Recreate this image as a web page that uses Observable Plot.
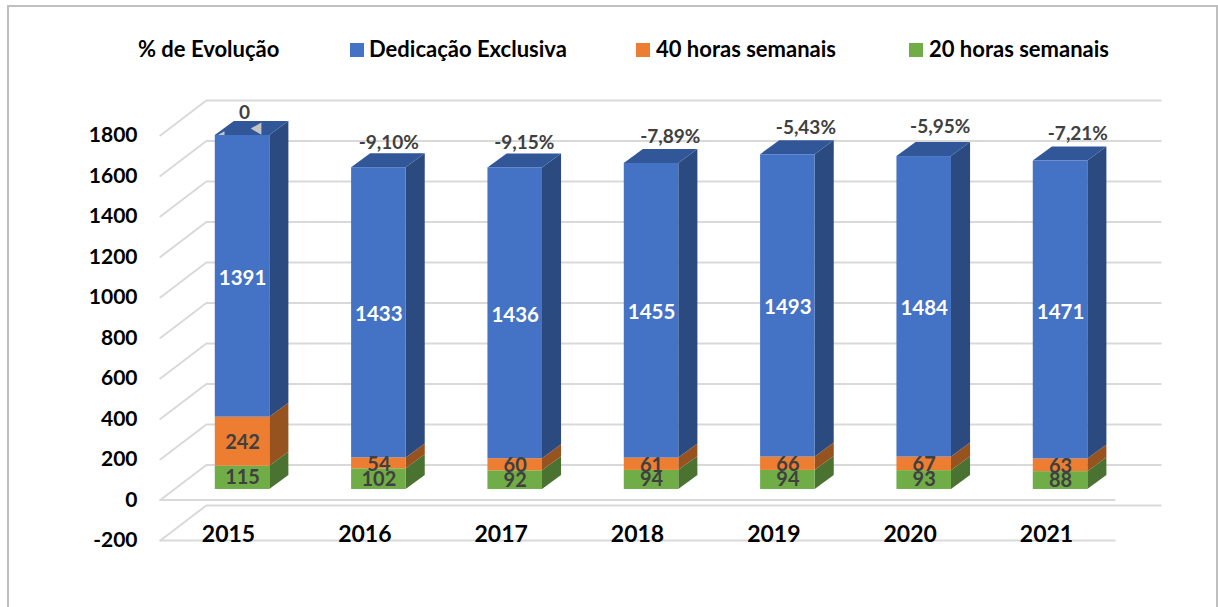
<!DOCTYPE html>
<html lang="pt">
<head>
<meta charset="utf-8">
<script src="https://cdn.jsdelivr.net/npm/d3@7"></script>
<script src="https://cdn.jsdelivr.net/npm/@observablehq/plot@0.6"></script>
<style>
html,body{margin:0;padding:0;background:#fff;overflow:hidden;width:1218px;height:607px}
#frame{position:absolute;left:7px;top:5px;width:1207px;height:700px;border:2px solid #BFBFBF;box-sizing:content-box}
#legend{position:absolute;left:0;top:0;width:1218px;height:90px;font:bold 22px Lato,sans-serif;color:#000}
#legend span{position:absolute;top:36px;line-height:26px;white-space:nowrap}
#legend i{position:absolute;top:43px;width:14px;height:14px}
#chart{position:absolute;left:0;top:90px}
#chart svg{display:block}
</style>
</head>
<body>
<div id="frame"></div>
<div id="legend"></div>
<div id="chart"></div>
<script>
const years = ["2015","2016","2017","2018","2019","2020","2021"];
const exclusiva = [1391,1433,1436,1455,1493,1484,1471];
const horas40 = [242,54,60,61,66,67,63];
const horas20 = [115,102,92,94,94,93,88];
const evolucao = ["0","-9,10%","-9,15%","-7,89%","-5,43%","-5,95%","-7,21%"];
const yTicks = [-200,0,200,400,600,800,1000,1200,1400,1600,1800];

const seriesDefs = [
  {name:"20 horas semanais", values:horas20, front:"#70AD47", side:"#4A7230", label:"#404040", size:20, dy:0},
  {name:"40 horas semanais", values:horas40, front:"#ED7D31", side:"#96531F", label:"#404040", size:20, dy:1},
  {name:"Dedicação Exclusiva", values:exclusiva, front:"#4472C4", side:"#2A4A80", top:"#325798", label:"#FFFFFF", size:20.5, dy:2}
];

// pseudo-3D projection constants, in scale units
const wallDx = 0.3375, wallDy = 173;    // depth of the chart floor
const barDx = 0.14, barDy = 69;         // depth of one bar
const barOffX = 0.103, barOffY = 52;    // bar front relative to the axis plane
const barW = 0.4;

// stacked segments
const segs = [];
years.forEach((year,i)=>{
  let base = 0;
  seriesDefs.forEach(s=>{
    segs.push({i,year,series:s.name,v0:base,v1:base+s.values[i],v:s.values[i]});
    base += s.values[i];
  });
});
const totals = years.map((_,i)=>horas20[i]+horas40[i]+exclusiva[i]);
const L = i=>i-barW/2+barOffX, R = i=>i+barW/2+barOffX;

const marks = [];

// gridlines: front-left edge, diagonal to the back wall, along the wall
const gridPts = yTicks.flatMap(t=>[
  {t,x:-0.5,y:t},{t,x:-0.5+wallDx,y:t+wallDy},{t,x:6.5+wallDx,y:t+wallDy}
]);
marks.push(Plot.line(gridPts,{x:"x",y:"y",z:"t",stroke:"#D9D9D9",strokeWidth:2,curve:"linear"}));
// floor front edges
const floorPts = [-200,0].flatMap(t=>[{t,x:-0.5,y:t},{t,x:6.5,y:t}]);
marks.push(Plot.line(floorPts,{x:"x",y:"y",z:"t",stroke:"#D9D9D9",strokeWidth:2}));

// bars
seriesDefs.forEach(s=>{
  const rows = segs.filter(d=>d.series===s.name);
  const sidePts = rows.flatMap(d=>[
    {i:d.i,x:R(d.i),y1:d.v0+barOffY,y2:d.v1+barOffY},
    {i:d.i,x:R(d.i)+barDx,y1:d.v0+barOffY+barDy,y2:d.v1+barOffY+barDy}
  ]);
  marks.push(Plot.areaY(sidePts,{x:"x",y1:"y1",y2:"y2",z:"i",fill:s.side,curve:"linear"}));
  if (s.top) {
    const topPts = rows.flatMap(d=>{
      const y=d.v1+barOffY;
      return [
        {i:d.i,x:L(d.i),y1:y,y2:y},
        {i:d.i,x:L(d.i)+barDx,y1:y,y2:y+barDy},
        {i:d.i,x:R(d.i),y1:y,y2:y+barDy},
        {i:d.i,x:R(d.i)+barDx,y1:y+barDy,y2:y+barDy}
      ];
    });
    marks.push(Plot.areaY(topPts,{x:"x",y1:"y1",y2:"y2",z:"i",fill:s.top,curve:"linear"}));
  }
});
// small grey arrowheads left on the 2015 bar top
marks.push(Plot.dot([{x:0.215,y:1834}],{x:"x",y:"y",symbol:"triangle",r:4.6,rotate:-90,fill:"#C4C4C4"}));
marks.push(Plot.dot([{x:-0.05,y:1797}],{x:"x",y:"y",symbol:"triangle",r:3.6,rotate:-90,fill:"#C4C4C4"}));

seriesDefs.forEach(s=>{
  const rows = segs.filter(d=>d.series===s.name);
  marks.push(Plot.rect(rows,{
    x1:d=>L(d.i),x2:d=>R(d.i),
    y1:d=>d.v0+barOffY,y2:d=>d.v1+barOffY,
    fill:s.front
  }));
});
seriesDefs.forEach(s=>{
  const rows = segs.filter(d=>d.series===s.name);
  marks.push(Plot.text(rows,{
    x:d=>(L(d.i)+R(d.i))/2,
    y:d=>(d.v0+d.v1)/2+barOffY,
    dy:s.dy,
    text:d=>String(d.v),
    fill:s.label,fontSize:s.size,fontWeight:"bold",textAnchor:"middle",lineAnchor:"middle"
  }));
});

// % de Evolução labels
const pctShiftX = [0.117,0.176,0.17,0.24,0.235,0.22,0.23];
const pctLift = [114,123,123,133,133,148,133];
marks.push(Plot.text(years,{
  x:(d,i)=>i+pctShiftX[i],
  y:(d,i)=>totals[i]+barOffY+pctLift[i],
  text:(d,i)=>evolucao[i],
  fill:"#404040",fontSize:19,fontWeight:"bold",textAnchor:"middle",lineAnchor:"middle"
}));

marks.push(Plot.axisY({ticks:yTicks,tickFormat:d=>String(d),tickSize:0,tickPadding:6,anchor:"left",label:null,fontSize:21,fontWeight:"bold",fill:"#000"}));
marks.push(Plot.axisX({ticks:d3.range(years.length),tickFormat:i=>years[i],tickSize:0,tickPadding:-15,anchor:"bottom",label:null,fontSize:23,fontWeight:"bold",fill:"#000"}));

const chart = Plot.plot({
  width:1218,height:517,
  marginLeft:143,marginRight:50,marginTop:0,marginBottom:67,
  style:{background:"transparent",fontFamily:"Lato, sans-serif",overflow:"visible"},
  x:{type:"linear",domain:[0,6],range:[228,1046]},
  y:{type:"linear",domain:[-200,1800],range:[450,45]},
  marks
});
document.getElementById("chart").append(chart);

// legend
const legend = document.getElementById("legend");
const legendItems = [
  {text:"% de Evolução",x:138},
  {text:"Dedicação Exclusiva",x:369,swatch:"#4472C4",sx:350},
  {text:"40 horas semanais",x:656,swatch:"#ED7D31",sx:636},
  {text:"20 horas semanais",x:929,swatch:"#70AD47",sx:909}
];
legendItems.forEach(it=>{
  const t=document.createElement("span");t.textContent=it.text;t.style.left=it.x+"px";legend.append(t);
  if(it.swatch){const b=document.createElement("i");b.style.left=it.sx+"px";b.style.background=it.swatch;legend.append(b);}
});
</script>
</body>
</html>
